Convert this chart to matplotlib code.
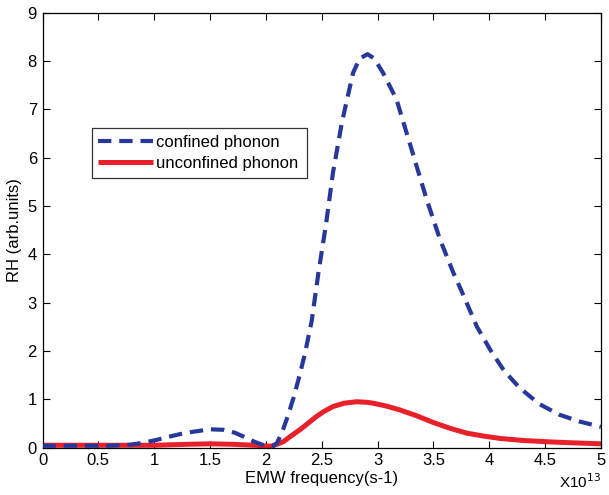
#!/usr/bin/env python3
# -*- coding: utf-8 -*-

import matplotlib
matplotlib.use("Agg")
import matplotlib.pyplot as plt


# EMW frequency in units of 1e13 s^-1
confined_freq = [0.0, 0.3, 0.6, 0.78, 0.9, 1.02, 1.12, 1.23, 1.35, 1.50, 1.62,
                 1.72, 1.80, 1.90, 1.97, 2.06, 2.10, 2.15, 2.20, 2.25, 2.30,
                 2.35, 2.41, 2.47, 2.54, 2.60, 2.68, 2.78, 2.84, 2.91, 2.97,
                 3.05, 3.17, 3.26, 3.35, 3.44, 3.56, 3.68, 3.75, 3.89, 4.01,
                 4.13, 4.27, 4.45, 4.63, 4.81, 5.00]
confined_rh = [0.04, 0.04, 0.04, 0.06, 0.10, 0.16, 0.22, 0.28, 0.33, 0.38, 0.37,
               0.31, 0.23, 0.12, 0.06, 0.02, 0.10, 0.35, 0.68, 1.05, 1.48,
               1.95, 2.62, 3.61, 4.65, 5.68, 6.72, 7.75, 8.05, 8.14, 8.05,
               7.75, 7.20, 6.51, 5.82, 5.13, 4.30, 3.61, 3.25, 2.50, 2.02,
               1.60, 1.24, 0.90, 0.68, 0.54, 0.43]

unconfined_freq = [0.0, 0.5, 1.0, 1.3, 1.5, 1.7, 1.9, 2.04, 2.10, 2.16, 2.23,
                   2.31, 2.38, 2.45, 2.52, 2.60, 2.70, 2.81, 2.90, 2.96, 3.08,
                   3.20, 3.35, 3.50, 3.65, 3.80, 3.95, 4.10, 4.30, 4.54, 4.75, 5.00]
unconfined_rh = [0.05, 0.05, 0.05, 0.07, 0.08, 0.07, 0.05, 0.03, 0.07, 0.13, 0.25,
                 0.38, 0.51, 0.64, 0.75, 0.85, 0.92, 0.95, 0.94, 0.92, 0.86,
                 0.78, 0.66, 0.52, 0.40, 0.30, 0.24, 0.19, 0.15, 0.12, 0.10, 0.08]

x_ticks = [0, 0.5, 1, 1.5, 2, 2.5, 3, 3.5, 4, 4.5, 5]
x_tick_labels = ["0", "0.5", "1", "1.5", "2", "2.5", "3", "3.5", "4", "4.5", "5"]
y_ticks = list(range(0, 10))


def main():
    plt.rcParams["font.family"] = ["Liberation Sans", "DejaVu Sans"]

    fig = plt.figure(figsize=(6.09, 4.95), dpi=100)
    ax = fig.add_axes([0.0698, 0.0956, 0.917, 0.879])

    ax.plot(unconfined_freq, unconfined_rh, color="#e8202a", linewidth=3.6,
            solid_capstyle="butt", label="unconfined phonon", zorder=2)
    ax.plot(confined_freq, confined_rh, color="#28389a", linewidth=3.0,
            linestyle=(0, (3.2, 1.9)), label="confined phonon", zorder=3)

    ax.set_xlim(0, 5)
    ax.set_ylim(0, 9)
    ax.set_xticks(x_ticks)
    ax.set_xticklabels(x_tick_labels)
    ax.set_yticks(y_ticks)
    ax.tick_params(direction="in", top=True, right=True, length=5,
                   labelsize=12, width=0.8, pad=4)
    for s in ax.spines.values():
        s.set_linewidth(0.9)

    ax.set_xlabel("EMW frequency(s-1)", fontsize=12, labelpad=2)
    ax.set_ylabel("RH (arb.units)", fontsize=12, labelpad=4)
    ax.text(1.0, -0.078, r"X10$^{13}$", transform=ax.transAxes,
            ha="right", va="center", fontsize=11)

    handles, labels = ax.get_legend_handles_labels()
    leg = ax.legend(handles[::-1], labels[::-1], loc="lower left",
                    bbox_to_anchor=(0.088, 0.62, 0.385, 0.119), mode="expand",
                    fontsize=12, frameon=True, fancybox=False, handlelength=3.3,
                    handletextpad=0.15, borderpad=0.4, labelspacing=0.4,
                    borderaxespad=0)
    leg.get_frame().set_edgecolor("black")
    leg.get_frame().set_linewidth(0.9)

    fig.savefig("out.png", dpi=100)
    plt.close(fig)


if __name__ == "__main__":
    main()
